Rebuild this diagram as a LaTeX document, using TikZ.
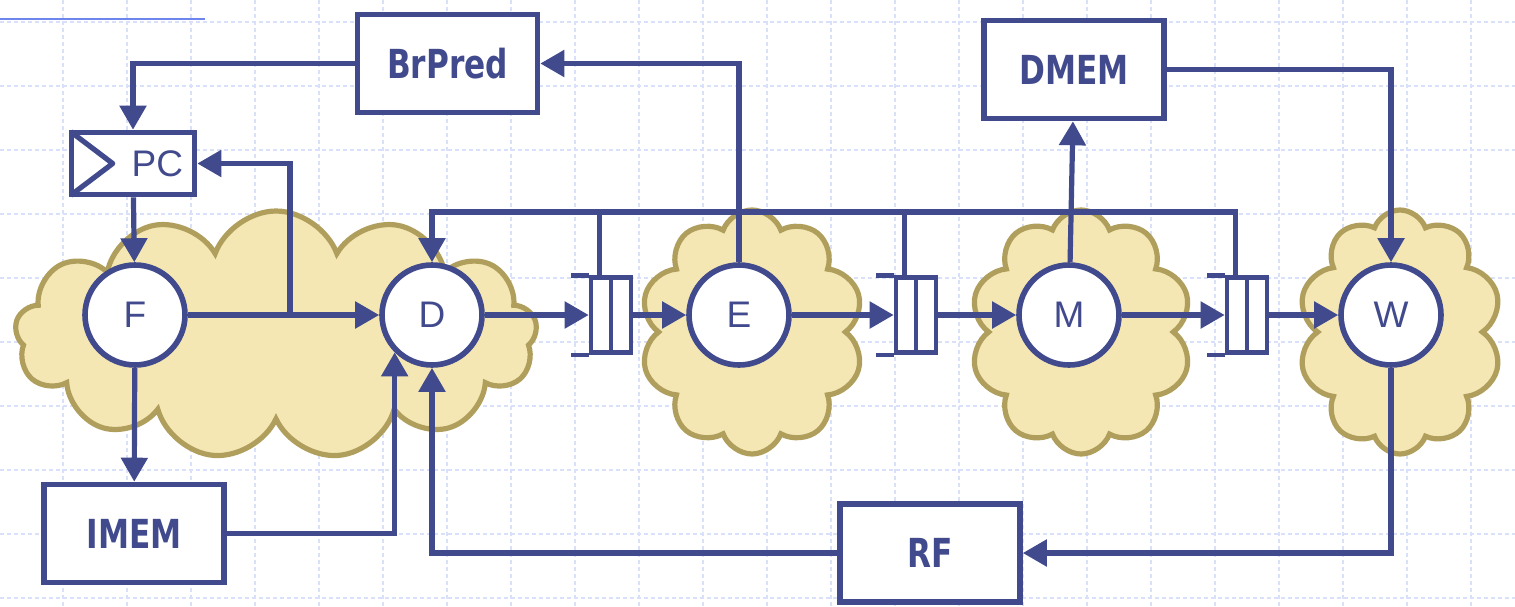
\documentclass[tikz,border=0pt]{standalone}
\usepackage{fontspec}
\setmainfont{Liberation Sans}
\newfontfamily\stagefont{Liberation Sans}
\newfontfamily\boxfont[FakeStretch=0.78]{DejaVu Sans}
\usetikzlibrary{
  calc,
  arrows.meta,
  positioning,
  shapes.symbols
}
\definecolor{navy}{HTML}{414A8C}
\definecolor{cloudedge}{HTML}{B09F5C}
\definecolor{cloudfill}{HTML}{F4E7B4}
\definecolor{gridblue}{HTML}{D9E1FA}
\definecolor{rulerblue}{HTML}{6F85EE}

\begin{document}
\begin{tikzpicture}[
            x=0.5pt, y=-0.5pt,
            node distance=150pt,
            font=\stagefont,
            % Stili
            gridline/.style={draw=gridblue, line width=0.8pt, dash pattern=on 2pt off 1.5pt},
            ruler/.style={draw=rulerblue, line width=1pt},
            blob/.style={cloud, cloud puffs=10, cloud puff arc=140, cloud ignores aspect, draw=cloudedge, fill=cloudfill, line width=2.6pt},
            stage/.style={circle, draw=navy, line width=2.8pt, fill=white, text=navy, minimum size=50pt, inner sep=0pt, font=\stagefont\fontsize{18.5}{20}\selectfont},
            unitbox/.style={rectangle, draw=navy, line width=2.8pt, fill=white, text=navy, minimum width=90pt, minimum height=49pt, font=\boxfont\bfseries\fontsize{20}{22}\selectfont},
            pcbox/.style={rectangle, draw=navy, line width=2.8pt, fill=white, text=navy, minimum width=61.5pt, minimum height=31pt, text width=50pt, align=right, inner xsep=5.75pt, font=\stagefont\fontsize{18.5}{20}\selectfont},
            pipereg/.style={rectangle, draw=navy, line width=2.3pt, fill=white, minimum width=20pt, minimum height=37.5pt, inner sep=0pt},
            regline/.style={draw=navy, line width=2.3pt},
            wire/.style={draw=navy, line width=2.6pt},
            arrow/.style={wire, ->, >={Triangle[length=12pt, width=13pt]}}
        ]

        \useasboundingbox[fill=white] (0,0) rectangle (1515,606);

        % Sfondo a griglia
        \foreach \gx in {-1,63,...,1535} \draw[gridline] (\gx,0) -- (\gx,606);
        \foreach \gy in {22,86,...,598} \draw[gridline] (0,\gy) -- (1515,\gy);
        \draw[ruler] (0,19) -- (205,19);

        % Nuvole
        \node (cloudfd) [blob, cloud puffs=13, minimum width=261pt, minimum height=124pt] at (276,335) {};
        \node (cloude) [blob, minimum width=112pt, minimum height=122pt] at (752,332) {};
        \node (cloudm) [blob, minimum width=111pt, minimum height=122pt] at (1081,332) {};
        \node (cloudw) [blob, minimum width=102pt, minimum height=122pt] at (1400,332) {};

        % Stadi della pipeline
        \node (f) [stage] at (135,315) {F};
        \node (d) [stage, right of=f, xshift=-1.5pt] {D};
        \node (e) [stage, right of=d, xshift=3.5pt] {E};
        \node (m) [stage, right of=e, xshift=15pt] {M};
        \node (w) [stage, right of=m, xshift=11pt] {W};

        % Registri di pipeline
        \node (reg1) [pipereg] at (611,315) {};
        \node (reg2) [pipereg] at (916,315) {};
        \node (reg3) [pipereg] at (1247,315) {};

        \draw[regline] (reg1.north) -- (reg1.south);
        \draw[regline] (reg1.north west) -- ++(-18,0);
        \draw[regline] (reg1.south west) -- ++(-18,0);
        \draw[regline] (reg2.north) -- (reg2.south);
        \draw[regline] (reg2.north west) -- ++(-18,0);
        \draw[regline] (reg2.south west) -- ++(-18,0);
        \draw[regline] (reg3.north) -- (reg3.south);
        \draw[regline] (reg3.north west) -- ++(-18,0);
        \draw[regline] (reg3.south west) -- ++(-18,0);

        % PC, memorie e predittore
        \node (pc) [pcbox] at (133,163.5) {PC};
        \draw[wire, line join=round] ($(pc.north west)+(2,2)$) -- ($(pc.west)+(44,0)$) -- ($(pc.south west)+(2,-2)$);

        \node (brpred) [unitbox] at (447.5,63.5) {BrPred};
        \node (dmem) [unitbox] at (1074,69.5) {DMEM};
        \node (imem) [unitbox] at (134,533.5) {IMEM};
        \node (rf) [unitbox] at (930,553) {RF};

        % Punti di appoggio
        \coordinate (fork) at (290,315);
        \coordinate (bus) at (432,212);
        \coordinate (tap1) at ($(reg1.north west)!0.25!(reg1.north east)$);
        \coordinate (tap2) at ($(reg2.north west)!0.25!(reg2.north east)$);
        \coordinate (tap3) at ($(reg3.north west)!0.25!(reg3.north east)$);

        % Collegamenti
        \draw[arrow] (brpred.west) -| (pc.north);
        \draw[arrow] (pc) -- (f);
        \draw[arrow] (f) -- (d);
        \draw[arrow] (fork) |- (pc.east);
        \draw[arrow] (f) -- (imem);
        \draw[arrow] (imem.east) -| (d.-135);
        \draw[arrow] (rf.west) -| (d.south);

        \draw[arrow] (d) -- (reg1);
        \draw[arrow] (reg1) -- (e);
        \draw[arrow] (e.north) |- (brpred.east);
        \draw[arrow] (e) -- (reg2);
        \draw[arrow] (reg2) -- (m);
        \draw[arrow] (m) -- (dmem);
        \draw[arrow] (dmem.east) -| (w.north);
        \draw[arrow] (m) -- (reg3);
        \draw[arrow] (reg3) -- (w);
        \draw[arrow] (w.south) |- (rf.east);

        % Bus di ritorno verso D
        \draw[arrow] (tap3) |- (bus) -- (d);
        \draw[wire] (tap1) -- (tap1 |- bus);
        \draw[wire] (tap2) -- (tap2 |- bus);

    \end{tikzpicture}
\end{document}
